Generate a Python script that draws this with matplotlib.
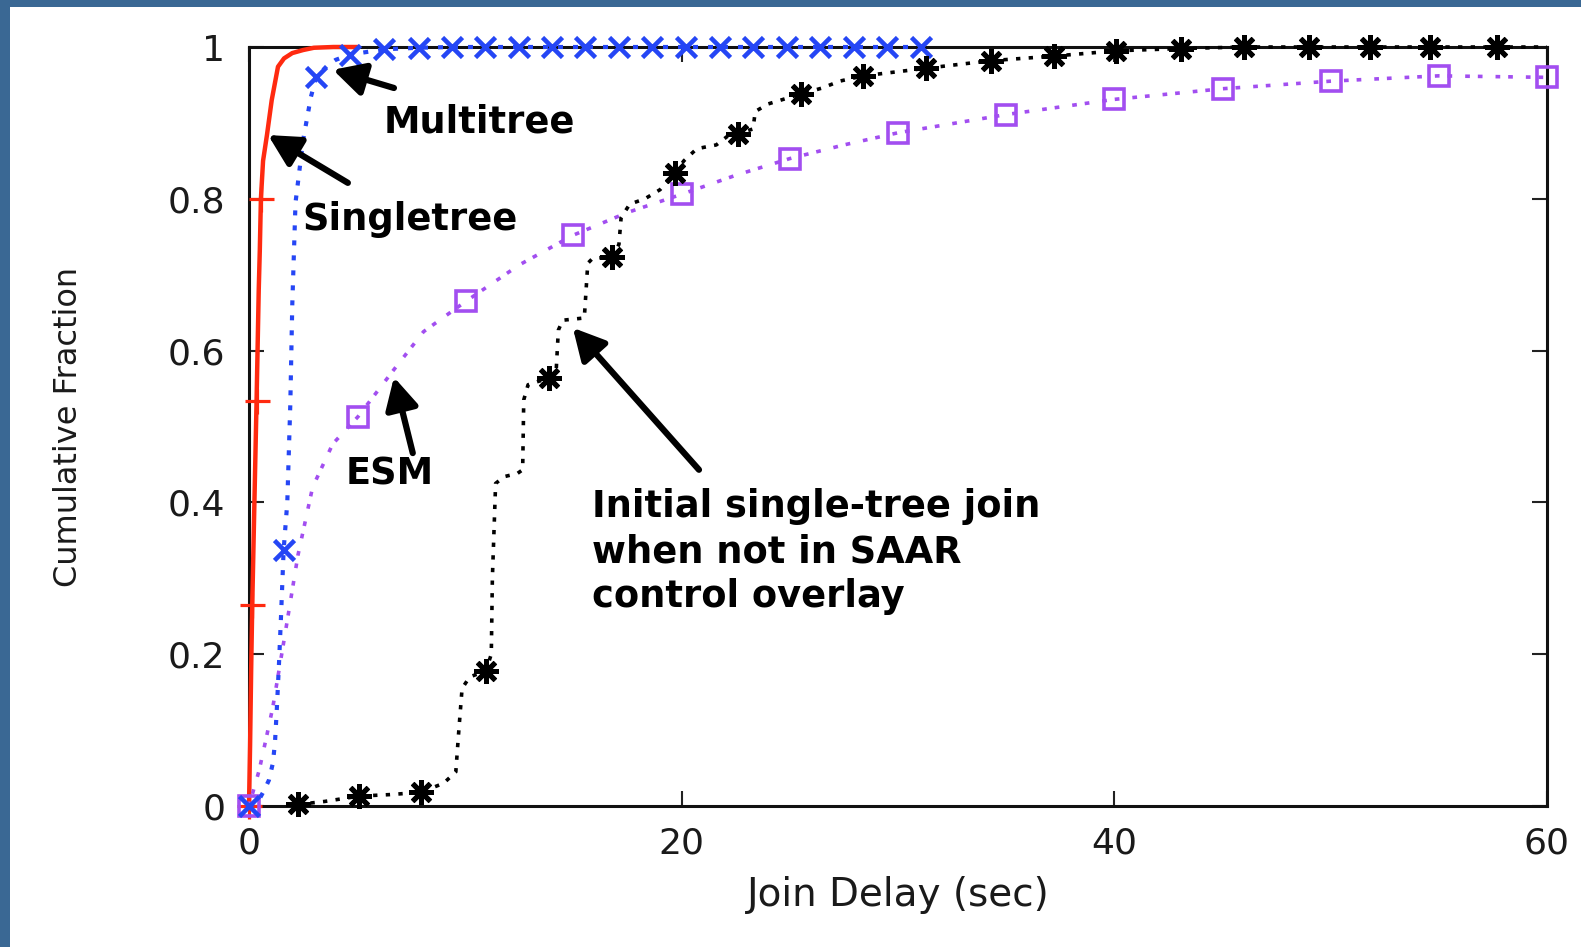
import matplotlib
matplotlib.use("Agg")
import matplotlib.pyplot as plt
from matplotlib.patches import Rectangle

# ---- data -----------------------------------------------------------------
# Singletree (solid red, '+' markers)
single_x = [0, 0.05, 0.1, 0.15, 0.25, 0.35, 0.45, 0.5, 0.55, 0.65, 0.83, 1.05,
            1.34, 1.62, 2.0, 2.5, 3.0, 3.9, 5.0]
single_y = [0, 0.08, 0.18, 0.265, 0.40, 0.534, 0.68, 0.733, 0.8, 0.85, 0.884,
            0.93, 0.974, 0.985, 0.992, 0.996, 0.999, 1.0, 1.0]
single_mx = [0, 0.15, 0.35, 0.55]
single_my = [0, 0.265, 0.534, 0.8]

# Multitree (blue dotted, 'x' markers)
multi_x = [0, 0.4, 0.69, 0.92, 1.1, 1.2, 1.29, 1.39, 1.48, 1.6, 1.77, 1.91, 2.0,
           2.15, 2.5, 2.86, 3.1, 3.6, 4.0, 4.67, 6.25, 7.84, 9.38, 31.05]
multi_y = [0, 0.005, 0.02, 0.034, 0.056, 0.083, 0.13, 0.19, 0.25, 0.337, 0.40,
           0.53, 0.66, 0.795, 0.877, 0.934, 0.96, 0.975, 0.983, 0.99, 0.997,
           0.999, 1.0, 1.0]
multi_mx = [0, 1.6, 3.1, 4.67, 6.25, 7.84, 9.38, 10.92, 12.46, 14.0, 15.55,
            17.1, 18.65, 20.2, 21.75, 23.3, 24.85, 26.4, 27.95, 29.5, 31.05]
multi_my = [0, 0.337, 0.96, 0.99, 0.997, 0.999, 1.0, 1.0, 1.0, 1.0, 1.0,
            1.0, 1.0, 1.0, 1.0, 1.0, 1.0, 1.0, 1.0, 1.0, 1.0]

# ESM (purple dotted, square markers)
esm_x = [0, 0.2, 0.47, 0.8, 1.1, 1.57, 1.86, 2.26, 2.94, 3.87, 5.04, 6.7, 8.07,
         10.03, 12.5, 14.98, 17.5, 20.0, 22.5, 25.0, 27.5, 30.0, 35, 40, 45,
         50, 55, 60]
esm_y = [0, 0.02, 0.047, 0.09, 0.13, 0.21, 0.26, 0.33, 0.42, 0.477, 0.513,
         0.575, 0.625, 0.665, 0.713, 0.752, 0.782, 0.806, 0.831, 0.853, 0.871,
         0.887, 0.911, 0.931, 0.945, 0.955, 0.962, 0.96]
esm_mx = [0, 5.04, 10.03, 14.98, 20.0, 25.0, 30.0, 35, 40, 45, 50, 55, 60]
esm_my = [0, 0.513, 0.665, 0.752, 0.806, 0.853, 0.887, 0.911, 0.931, 0.945,
          0.955, 0.962, 0.96]

# Initial single-tree join without SAAR control overlay (black dotted, stars)
init_x = [2.26, 3.5, 5.08, 6.5, 7.94, 9.0, 9.56, 9.7, 9.85, 10.2, 10.95, 11.2,
          11.25, 11.4, 11.8, 12.4, 12.65, 12.7, 12.9, 13.86, 14.2, 14.3, 14.5,
          15.5, 15.66, 15.9, 16.8, 17.1, 17.2, 17.6, 18.3, 19.0, 19.7, 20.1,
          20.7, 21.6, 22.1, 22.6, 23.3, 23.4, 24.0, 25.5, 26.5, 27.3, 28.4,
          31.3, 34.3, 37.2, 40.1, 43.1, 46.0, 49.0, 51.8, 54.6, 57.7, 60.0]
init_y = [0.002, 0.006, 0.013, 0.015, 0.018, 0.03, 0.045, 0.10, 0.155, 0.17,
          0.178, 0.20, 0.30, 0.425, 0.434, 0.438, 0.443, 0.535, 0.555, 0.564,
          0.574, 0.627, 0.640, 0.643, 0.715, 0.722, 0.723, 0.74, 0.775, 0.793,
          0.80, 0.812, 0.834, 0.85, 0.866, 0.871, 0.882, 0.886, 0.892, 0.915,
          0.925, 0.938, 0.946, 0.955, 0.962, 0.972, 0.982, 0.988, 0.995, 0.998,
          1.0, 1.0, 1.0, 1.0, 1.0, 1.0]
init_mx = [2.26, 5.08, 7.94, 10.95, 13.86, 16.8, 19.7, 22.6, 25.5, 28.4, 31.3,
           34.3, 37.2, 40.1, 43.1, 46.0, 49.0, 51.8, 54.6, 57.7]
init_my = [0.002, 0.013, 0.018, 0.178, 0.564, 0.723, 0.834, 0.886, 0.938, 0.962,
           0.972, 0.982, 0.988, 0.995, 0.998, 1.0, 1.0, 1.0, 1.0, 1.0]

x_ticks = [0, 20, 40, 60]
y_ticks = [0, 0.2, 0.4, 0.6, 0.8, 1.0]
y_tick_labels = ["0", "0.2", "0.4", "0.6", "0.8", "1"]

# ---- figure ---------------------------------------------------------------
W, H = 1581, 947
fig = plt.figure(figsize=(W / 100, H / 100), dpi=100)
fig.patch.set_facecolor("white")

# slide frame strips
frame = "#3a6894"
fig.add_artist(Rectangle((0, 0), 10 / W, 1, transform=fig.transFigure,
                         facecolor=frame, edgecolor="none", zorder=0))
fig.add_artist(Rectangle((0, 1 - 7 / H), 1, 7 / H, transform=fig.transFigure,
                         facecolor=frame, edgecolor="none", zorder=0))

left, right, bottom, top = 249, 1547, 806, 47
ax = fig.add_axes([left / W, (H - bottom) / H, (right - left) / W, (bottom - top) / H])
ax.set_xlim(0, 60)
ax.set_ylim(0, 1)

RED = "#ff2a10"
BLUE = "#2546f5"
PURPLE = "#a24ef0"
BLACK = "#000000"

# Singletree
ax.plot(single_x, single_y, color=RED, lw=3.2, zorder=3, clip_on=False)
ax.plot(single_mx, single_my, ls="none", marker="+", ms=18, mew=2.3,
        color=RED, zorder=3, clip_on=False)

# ESM
ax.plot(esm_x, esm_y, color=PURPLE, lw=2.6, dashes=(1.3, 2.2, 1.3, 3.6),
        zorder=4, clip_on=False)
ax.plot(esm_mx, esm_my, ls="none", marker="s", ms=14, mew=2.6,
        mfc="none", mec=PURPLE, zorder=4, clip_on=False)

# Multitree
ax.plot(multi_x, multi_y, color=BLUE, lw=3.0, dashes=(1.2, 2.4),
        zorder=5, clip_on=False)
ax.plot(multi_mx, multi_my, ls="none", marker="x", ms=14, mew=3.3,
        color=BLUE, zorder=5, clip_on=False)

# Initial single-tree join
ax.plot(init_x, init_y, color=BLACK, lw=2.6, dashes=(1.2, 2.3),
        zorder=6, clip_on=False)
ax.plot(init_mx, init_my, ls="none", marker=(8, 2, 0), ms=18, mew=3.6,
        color=BLACK, zorder=6, clip_on=False)

# ---- axes styling ---------------------------------------------------------
for sp in ax.spines.values():
    sp.set_linewidth(2.2)
    sp.set_color("#111111")

ax.set_xticks(x_ticks)
ax.set_yticks(y_ticks)
ax.set_yticklabels(y_tick_labels)
ax.tick_params(axis="both", which="major", direction="in", length=10.5,
               width=1.5, color="#222222", top=True, right=True,
               labelsize=26, labelcolor="#1a1a1a")
ax.tick_params(axis="x", pad=15)
ax.tick_params(axis="y", pad=17)
for lab in ax.get_xticklabels() + ax.get_yticklabels():
    lab.set_family("DejaVu Sans")

ax.set_xlabel("Join Delay (sec)", fontsize=28, family="DejaVu Sans",
              color="#1a1a1a")
ax.set_ylabel("Cumulative Fraction", fontsize=23, family="DejaVu Sans",
              color="#1a1a1a")
ax.xaxis.set_label_coords(0.5, -0.092)
ax.yaxis.set_label_coords(-0.127, 0.5)

# ---- annotations ----------------------------------------------------------
arrow = dict(arrowstyle="-|>,head_length=0.95,head_width=0.5", lw=4.5,
             color="black", shrinkA=0, shrinkB=0, mutation_scale=20)
note_font = dict(fontsize=26.5, fontweight="bold", family="DejaVu Sans",
                 color="black", zorder=8)

ax.annotate("", xy=(3.88, 0.970), xytext=(6.7, 0.946), arrowprops=arrow, zorder=8)
ax.text(6.2, 0.888, "Multitree", ha="left", va="baseline", **note_font)

ax.annotate("", xy=(0.88, 0.884), xytext=(4.57, 0.821), arrowprops=arrow, zorder=8)
ax.text(2.45, 0.759, "Singletree", ha="left", va="baseline", **note_font)

ax.annotate("", xy=(6.7, 0.565), xytext=(7.57, 0.465), arrowprops=arrow, zorder=8)
ax.text(8.55, 0.423, "ESM", ha="right", va="baseline", **note_font)

ax.annotate("", xy=(14.97, 0.63), xytext=(20.8, 0.443), arrowprops=arrow, zorder=8)
for line, yb in zip(["Initial single-tree join", "when not in SAAR",
                     "control overlay"], [0.381, 0.321, 0.262]):
    ax.text(15.85, yb, line, ha="left", va="baseline", **note_font)

fig.savefig("out.png", dpi=100, facecolor=fig.get_facecolor())
